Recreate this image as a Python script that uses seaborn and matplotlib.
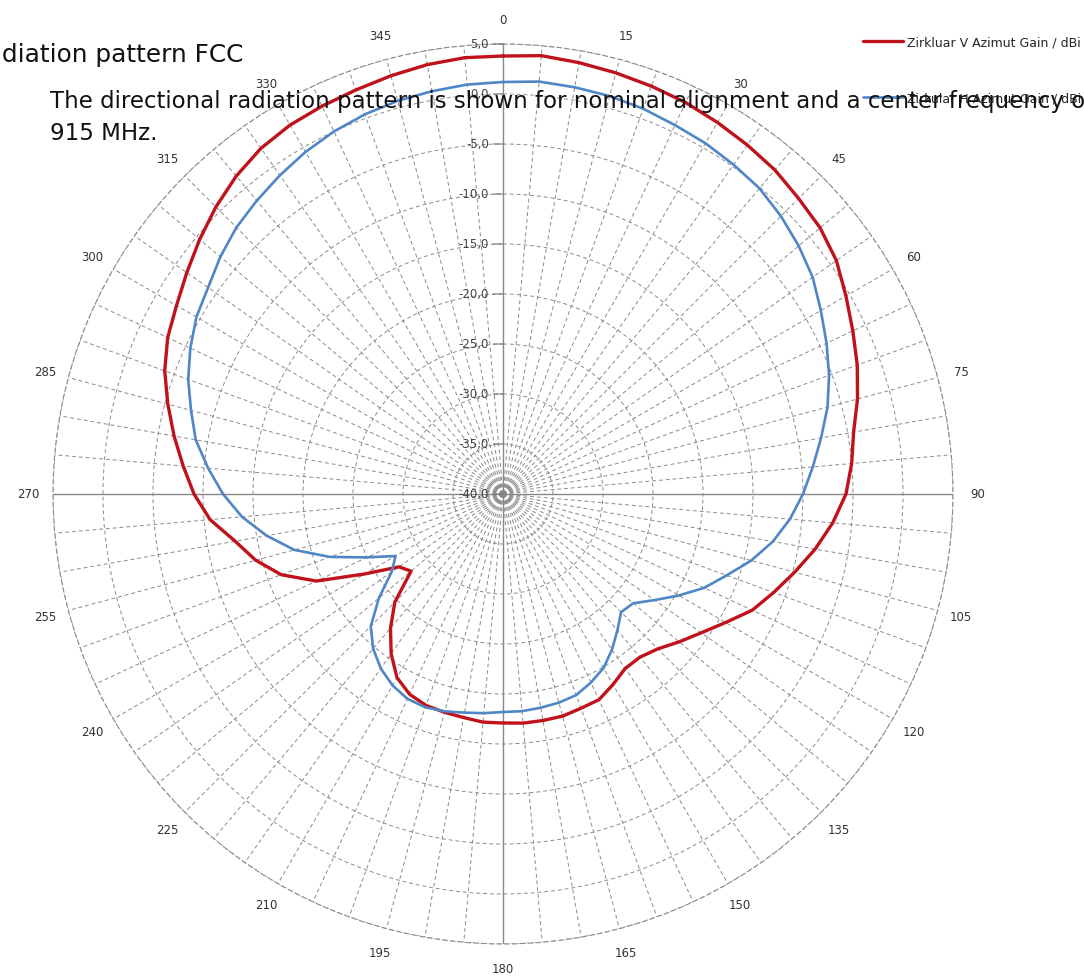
import numpy as np
import pandas as pd
import seaborn as sns
from matplotlib import pyplot as plt

# azimuth angles (deg), one value every 5 deg like the Excel radar chart
angles = list(range(0, 360, 5))

# gain / dBi
vertical_gain = [3.8, 4.0, 3.8, 3.6, 3.4, 3.2, 2.9, 2.6, 2.3, 1.8, 1.4, 0.7,
                 -0.4, -1.4, -2.3, -3.3, -4.4, -5.0, -5.7, -6.9, -8.3, -9.8, -11.2, -12.5,
                 -14.3, -15.8, -17.0, -18.1, -18.7, -18.7, -18.0, -17.3, -17.2, -17.0, -17.0, -17.0,
                 -17.1, -17.1, -17.3, -17.4, -17.5, -17.9, -18.8, -20.5, -22.5, -24.7, -28.0, -27.3,
                 -24.0, -19.4, -16.4, -14.4, -12.8, -10.6, -9.1, -7.9, -6.6, -5.3, -4.0, -3.0,
                 -2.3, -1.4, -0.4, 0.6, 1.5, 2.2, 2.6, 2.8, 3.0, 3.3, 3.6, 3.8]
horizontal_gain = [1.2, 1.4, 1.3, 1.2, 1.0, 0.7, 0.5, 0.2, -0.1, -0.7, -1.4, -2.2,
                   -3.3, -4.3, -5.3, -6.4, -7.7, -8.9, -10.0, -11.2, -12.6, -14.3, -16.2, -17.8,
                   -19.7, -21.5, -23.0, -23.3, -22.2, -21.0, -19.9, -19.2, -18.6, -18.4, -18.3, -18.2,
                   -18.2, -18.0, -17.8, -17.5, -17.3, -17.4, -17.9, -18.7, -19.8, -21.3, -23.8, -26.4,
                   -27.6, -25.0, -21.6, -18.4, -16.0, -13.8, -12.0, -10.4, -8.8, -7.7, -6.5, -5.5,
                   -4.6, -4.0, -3.1, -2.3, -1.7, -1.1, -0.5, 0.0, 0.4, 0.7, 0.9, 1.1]

series_names = ["Zirkluar V Azimut Gain / dBi", "Zirkular H Azimut Gain / dBi"]
gain_ticks = list(range(-40, 6, 5))

sns.set_style("white")
plt.rcParams["font.family"] = ["DejaVu Sans"]

W, H = 1084, 979
fig = plt.figure(figsize=(W / 100, H / 100), dpi=100)
cx, cy, R = 503, 495, 450
ax = fig.add_axes([(cx - R) / W, 1 - (cy + R) / H, 2 * R / W, 2 * R / H], projection="polar")
ax.set_theta_zero_location("N")
ax.set_theta_direction(-1)
ax.set_ylim(-40, 5)

# grid: dashed spokes every 5 deg and rings every 5 dB
ax.set_xticks(np.deg2rad(angles))
ax.set_xticklabels([str(a) if a % 15 == 0 else "" for a in angles],
                   fontsize=8.5, color="#333333")
ax.tick_params(axis="x", pad=7)
ax.set_yticks(gain_ticks)
ax.set_yticklabels([])
ax.grid(True, color="#8a8a8a", linestyle=(0, (4, 3)), linewidth=0.7)
ax.spines["polar"].set_linestyle((0, (4, 3)))
ax.spines["polar"].set_color("#8a8a8a")
ax.spines["polar"].set_linewidth(0.8)
for a in [0, 90, 180, 270]:
    ax.axvline(np.deg2rad(a), color="#888888", linewidth=1.0)

# value axis labels + small tick marks on the 0 deg spoke
for v in gain_ticks:
    ax.annotate("", xy=(0, v), xytext=(-7, 0), textcoords="offset points",
                arrowprops=dict(arrowstyle="-", color="#777777", lw=0.8,
                                shrinkA=0, shrinkB=0))
    ax.annotate(f"{v:.1f}".replace(".", ","), xy=(0, v), xytext=(-10, 0),
                textcoords="offset points", ha="right", va="center",
                fontsize=8.5, color="#444444")

theta = np.deg2rad(angles + [360])
df_v = pd.DataFrame({"theta": theta, "gain": vertical_gain + vertical_gain[:1]})
df_h = pd.DataFrame({"theta": theta, "gain": horizontal_gain + horizontal_gain[:1]})
sns.lineplot(data=df_v, x="theta", y="gain", sort=False, estimator=None, ax=ax,
             color="#C0121B", linewidth=2.4, label=series_names[0])
sns.lineplot(data=df_h, x="theta", y="gain", sort=False, estimator=None, ax=ax,
             color="#4F86C6", linewidth=1.9, label=series_names[1])
ax.set_xlabel("")
ax.set_ylabel("")

ax.legend(loc="upper left", bbox_to_anchor=(863 / W, 1 - 36 / H), bbox_transform=fig.transFigure,
          frameon=False, fontsize=9, handlelength=3.2, handletextpad=0.3,
          labelspacing=3.5, borderpad=0, borderaxespad=0)

fig.text(-30 / W, 1 - 62 / H, "Radiation pattern FCC", fontsize=17.8, color="#111111")
fig.text(50 / W, 1 - 108 / H, "The directional radiation pattern is shown for nominal alignment and a center frequency of",
         fontsize=16.5, color="#111111")
fig.text(50 / W, 1 - 140 / H, "915 MHz.", fontsize=16.5, color="#111111")

fig.savefig("out.png", dpi=100)
